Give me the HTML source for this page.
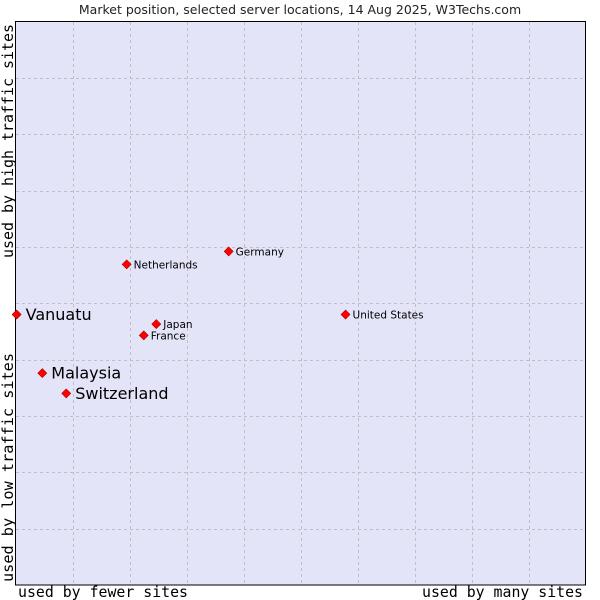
<!DOCTYPE html>
<html><head><meta charset="utf-8"><style>
body{margin:0;background:#fff;width:600px;height:600px;overflow:hidden}
svg{display:block}
</style></head><body>
<svg id="chart" width="600" height="600" xmlns="http://www.w3.org/2000/svg">
<text x="300" y="14" text-anchor="middle" font-family="DejaVu Sans, sans-serif" font-size="12.5" fill="#222">Market position, selected server locations, 14 Aug 2025, W3Techs.com</text>
<rect x="15.5" y="21.5" width="570" height="563.5" fill="#e3e4f8" stroke="#000" stroke-width="1"/>
<g id="grid"></g>
<g id="points"></g>
<text x="18" y="597" textLength="170" lengthAdjust="spacingAndGlyphs" font-family="DejaVu Sans Mono, Liberation Mono, monospace" font-size="15" fill="#000">used by fewer sites</text>
<text x="422" y="597" textLength="161" lengthAdjust="spacingAndGlyphs" font-family="DejaVu Sans Mono, Liberation Mono, monospace" font-size="15" fill="#000">used by many sites</text>
<text transform="translate(13,582) rotate(-90)" textLength="229" lengthAdjust="spacingAndGlyphs" font-family="DejaVu Sans Mono, Liberation Mono, monospace" font-size="15" fill="#000">used by low traffic sites</text>
<text transform="translate(13,258) rotate(-90)" textLength="234" lengthAdjust="spacingAndGlyphs" font-family="DejaVu Sans Mono, Liberation Mono, monospace" font-size="15" fill="#000">used by high traffic sites</text>
</svg>
<script>
const names = ["Vanuatu","Malaysia","Switzerland","Netherlands","Germany","Japan","France","United States"];
const xValues = [0.2,4.7,8.9,19.5,37.4,24.7,22.5,57.9];
const yValues = [48,37.6,34,56.9,59.2,46.3,44.3,48];
const highlighted = [true,true,true,false,false,false,false,false];
const NS="http://www.w3.org/2000/svg";
const X0=15.5,X1=585.5,Y0=585,Y1=21.5;
function sx(v){return X0+v/100*(X1-X0);}
function sy(v){return Y0-v/100*(Y0-Y1);}
const grid=document.getElementById('grid');
for(let k=1;k<10;k++){
  const gx=Math.round(sx(k*10))+0.5, gy=Math.round(sy(k*10))+0.5;
  const l1=document.createElementNS(NS,'line');
  l1.setAttribute('x1',gx);l1.setAttribute('x2',gx);l1.setAttribute('y1',22);l1.setAttribute('y2',584);
  l1.setAttribute('stroke','#c0c0c0');l1.setAttribute('stroke-dasharray','3,3');
  
  
  grid.appendChild(l1);
  const l2=document.createElementNS(NS,'line');
  l2.setAttribute('y1',gy);l2.setAttribute('y2',gy);l2.setAttribute('x1',16);l2.setAttribute('x2',585);
  l2.setAttribute('stroke','#c0c0c0');l2.setAttribute('stroke-dasharray','3,3');
  
  
  grid.appendChild(l2);
}
const pts=document.getElementById('points');
names.forEach((n,i)=>{
  const x=sx(xValues[i]), y=sy(yValues[i]);
  const d=document.createElementNS(NS,'path');
  d.setAttribute('d',`M${x},${y-4.5}L${x+4.5},${y}L${x},${y+4.5}L${x-4.5},${y}Z`);
  d.setAttribute('fill','#ff0000');d.setAttribute('stroke','#a00');d.setAttribute('stroke-width','0.6');
  
  
  pts.appendChild(d);
  const t=document.createElementNS(NS,'text');
  const big=highlighted[i];
  t.setAttribute('x',x+(big?9:7));t.setAttribute('y',y+(big?5.5:4));
  t.setAttribute('font-family','DejaVu Sans, sans-serif');
  t.setAttribute('font-size',big?'16':'10.5');
  t.setAttribute('fill','#000');
  t.textContent=n;
  
  
  pts.appendChild(t);
});
</script>
</body></html>
